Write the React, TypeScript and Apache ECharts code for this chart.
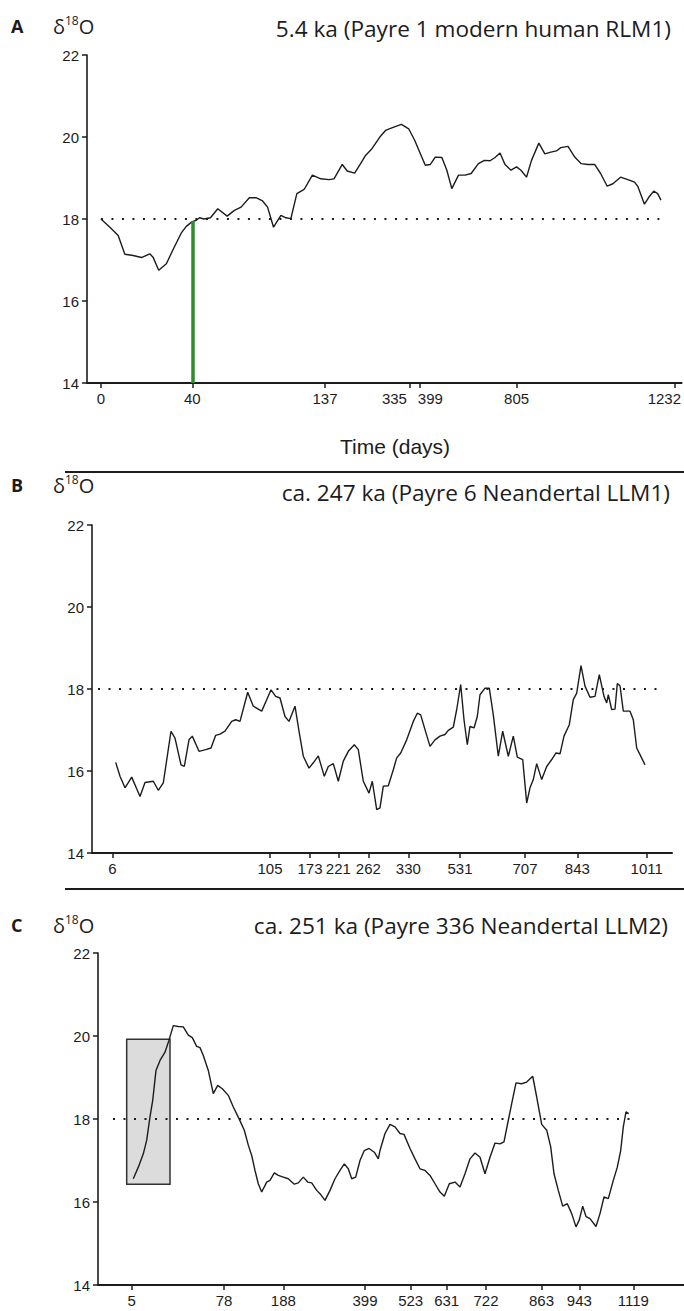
import React, { useEffect, useRef } from "react";
import * as echarts from "echarts";

// ---------- Panel A : 5.4 ka (Payre 1 modern human RLM1) ----------
const aTickPos = [14, 105.7, 239, 323.7, 333.7, 431.3, 589.7];
const aTickLabels = ["0", "40", "137", "335", "399", "805", "1232"];
const aPos = [14, 23, 31.3, 38, 46.3, 54.7, 63, 66.3, 72, 79.7, 87.3, 94.7, 99.7, 105.3, 109.7, 113, 117.3, 124, 131.3, 140.7, 148, 154.7, 163, 169.7, 176.3, 181.3, 187.3, 194.7, 199.7, 204.7, 210.7, 218, 226.3, 234.7, 243, 248, 256.3, 261.3, 268.7, 274.7, 279.7, 286.3, 294.7, 299.7, 308, 315.7, 323, 329, 334.7, 339.7, 344.7, 349.7, 356.3, 361.3, 366.3, 373, 379.7, 385.7, 393, 399, 404.7, 409.7, 414.7, 419.7, 425.7, 431.3, 435.7, 441.3, 446.3, 453.7, 459.7, 465.7, 471.3, 475.7, 483, 489.7, 496.3, 503, 509.7, 515.7, 522.3, 528, 535.7, 543, 549.7, 553, 559.7, 564.7, 569, 573, 576.3];
const aVal = [18.0, 17.8, 17.6, 17.14, 17.11, 17.06, 17.15, 17.07, 16.75, 16.91, 17.3, 17.66, 17.82, 17.93, 17.97, 18.03, 18.0, 18.03, 18.25, 18.07, 18.21, 18.29, 18.52, 18.52, 18.44, 18.29, 17.8, 18.09, 18.03, 18.01, 18.62, 18.72, 19.07, 18.98, 18.96, 18.98, 19.33, 19.17, 19.12, 19.35, 19.55, 19.72, 20.02, 20.16, 20.24, 20.31, 20.2, 19.92, 19.59, 19.31, 19.33, 19.51, 19.5, 19.19, 18.74, 19.07, 19.07, 19.11, 19.35, 19.43, 19.42, 19.5, 19.61, 19.33, 19.19, 19.27, 19.19, 19.02, 19.43, 19.85, 19.59, 19.63, 19.66, 19.74, 19.77, 19.51, 19.35, 19.33, 19.33, 19.11, 18.8, 18.86, 19.02, 18.96, 18.9, 18.8, 18.36, 18.55, 18.68, 18.62, 18.46];
const aRefSpan = [14, 574.7];
const aGreenPos = 105.7;
const aGreenTop = 17.95;

// ---------- Panel B : ca. 247 ka (Payre 6 Neandertal LLM1) ----------
const bTickPos = [20.3, 178, 218, 246.3, 276.3, 316.3, 368, 433, 485.3, 554.7];
const bTickLabels = ["6", "105", "173", "221", "262", "330", "531", "707", "843", "1011"];
const bPos = [23.7, 28, 33, 39.7, 48, 53, 61.3, 66.3, 71.3, 79, 83, 89, 92.3, 97, 100.3, 107, 113.7, 119, 123.7, 128, 133, 139.7, 143.7, 148, 155.7, 161.3, 169.7, 174.7, 179, 183.7, 188, 193, 197, 203, 207, 211.3, 217, 221.3, 226.3, 232.3, 236.3, 241.3, 246.3, 251.3, 256.3, 262.3, 266.3, 271.3, 277, 280.3, 284.7, 288, 291.3, 296.3, 301.3, 304.7, 308.7, 314.7, 321.3, 325.3, 328.7, 333, 338, 343, 348, 353, 356.3, 361.3, 364.7, 368.7, 372, 375.3, 378, 382, 385.3, 388, 393, 397.3, 401.3, 406.3, 410.7, 416.3, 421.3, 425.3, 430.7, 434.7, 438, 441.3, 444.7, 449.7, 454.7, 459.7, 464, 468, 472, 477.3, 481.3, 484.7, 489, 493, 498, 503, 507.3, 512, 514.7, 516.3, 519.7, 523, 525.3, 528, 531.3, 538, 541.3, 544.7, 548, 553];
const bVal = [16.21, 15.87, 15.59, 15.85, 15.38, 15.72, 15.75, 15.53, 15.71, 16.97, 16.8, 16.15, 16.11, 16.76, 16.85, 16.48, 16.52, 16.56, 16.87, 16.9, 16.97, 17.21, 17.25, 17.21, 17.92, 17.58, 17.46, 17.74, 17.98, 17.82, 17.78, 17.33, 17.21, 17.58, 16.97, 16.36, 16.07, 16.2, 16.37, 15.87, 16.11, 16.18, 15.75, 16.24, 16.48, 16.64, 16.52, 15.75, 15.46, 15.75, 15.06, 15.1, 15.63, 15.64, 16.03, 16.32, 16.44, 16.76, 17.21, 17.41, 17.37, 17.01, 16.6, 16.76, 16.85, 16.89, 16.99, 17.07, 17.5, 18.11, 17.25, 16.64, 17.09, 17.05, 17.33, 17.86, 18.02, 18.02, 17.37, 16.36, 16.97, 16.36, 16.85, 16.34, 16.28, 15.22, 15.59, 15.79, 16.18, 15.79, 16.11, 16.28, 16.44, 16.42, 16.85, 17.13, 17.74, 17.9, 18.57, 18.07, 17.8, 17.82, 18.35, 17.82, 17.66, 17.86, 17.5, 17.51, 18.13, 18.08, 17.46, 17.46, 17.25, 16.56, 16.4, 16.15];
const bRefSpan = [6, 568];

// ---------- Panel C : ca. 251 ka (Payre 336 Neandertal LLM2) ----------
const cTickPos = [33.7, 126, 185.3, 267, 312.7, 348.7, 388, 443.5, 481.3, 535.3];
const cTickLabels = ["5", "78", "188", "399", "523", "631", "722", "863", "943", "1119"];
const cPos = [35.3, 40.3, 45.3, 48.7, 52, 54.7, 58, 62, 67, 71, 75.3, 80.3, 85.3, 90.3, 94.3, 98.7, 102, 105.3, 110.3, 115.3, 119.7, 124.3, 130.3, 135.3, 141, 146.3, 150.3, 153.7, 157, 160.3, 163.7, 168.7, 172, 176.3, 180.3, 185.3, 190.3, 196.3, 200.3, 205.3, 209.7, 213.7, 218.7, 222, 227, 232, 237, 242, 246.3, 250.3, 253.7, 257.7, 262, 266.3, 271, 276.3, 280.3, 282, 287, 292, 297, 302, 306, 312, 317, 322, 327, 332, 337, 342, 346.3, 351.3, 357, 362, 367, 372, 377, 382, 387, 392, 397, 402, 406, 410.3, 413.7, 418, 423.7, 428.7, 434.7, 438.7, 443.7, 448.7, 452.7, 456, 460.3, 464.7, 469.3, 473.7, 478, 481.3, 484.7, 488, 492, 498, 502, 506, 510.3, 515.3, 519.3, 522.7, 525.3, 528, 530.7];
const cVal = [16.56, 16.84, 17.16, 17.49, 18.05, 18.45, 19.17, 19.41, 19.61, 19.9, 20.25, 20.23, 20.22, 20.02, 19.96, 19.75, 19.72, 19.53, 19.17, 18.61, 18.81, 18.73, 18.57, 18.29, 18.01, 17.73, 17.37, 17.12, 16.76, 16.44, 16.24, 16.48, 16.52, 16.7, 16.64, 16.6, 16.56, 16.43, 16.46, 16.6, 16.48, 16.46, 16.28, 16.2, 16.04, 16.28, 16.56, 16.76, 16.92, 16.8, 16.56, 16.6, 17.0, 17.24, 17.29, 17.2, 17.04, 17.24, 17.65, 17.87, 17.81, 17.65, 17.63, 17.29, 17.04, 16.8, 16.76, 16.64, 16.44, 16.24, 16.14, 16.44, 16.48, 16.36, 16.68, 17.04, 17.18, 17.08, 16.68, 17.08, 17.42, 17.4, 17.45, 17.97, 18.37, 18.87, 18.85, 18.89, 19.03, 18.53, 17.87, 17.73, 17.33, 16.68, 16.28, 15.9, 15.96, 15.72, 15.4, 15.57, 15.9, 15.65, 15.6, 15.41, 15.72, 16.12, 16.08, 16.52, 16.84, 17.24, 17.81, 18.17, 18.13];
const cRefSpan = [15, 532];
const cBoxX = [28.7, 72];
const cBoxY = [16.43, 19.92];

// ---------- shared ----------
const yTicks = { min: 14, max: 22, step: 2 };
const refLevel = 18;
const titles = [
  "5.4 ka (Payre 1 modern human RLM1)",
  "ca. 247 ka (Payre 6 Neandertal LLM1)",
  "ca. 251 ka (Payre 336 Neandertal LLM2)",
];
const panelLetters = ["A", "B", "C"];
const xAxisName = "Time (days)";

// ---------- styling / layout ----------
const INK = "#1c1c1c";
const AXIS_FONT = "'Liberation Sans', Arial, sans-serif";
const TITLE_FONT = "'Open Sans', 'Noto Sans', sans-serif";
const grids = [
  { left: 87, top: 55, width: 597, height: 328, xmax: 597 },
  { left: 92, top: 525, width: 580, height: 328, xmax: 580 },
  { left: 98, top: 953, width: 586, height: 332, xmax: 586 },
];
const labelShiftA: Record<string, number> = { "335": -15, "399": 11, "1232": -10 };

function zip(xs: number[], ys: number[]) {
  return xs.map((x, i) => [x, ys[i]]);
}

function makeXAxis(gi: number, ticks: number[], labels: string[], shift: Record<string, number>) {
  const rich: Record<string, any> = {};
  labels.forEach((lab, i) => {
    const s = shift[lab];
    if (s) {
      rich["s" + i] = {
        fontSize: 15,
        fontFamily: AXIS_FONT,
        color: INK,
        padding: s < 0 ? [0, -2 * s, 0, 0] : [0, 0, 0, 2 * s],
      };
    }
  });
  return {
    type: "value",
    gridIndex: gi,
    min: 0,
    max: grids[gi].xmax,
    splitLine: { show: false },
    axisLine: { show: true, onZero: false, lineStyle: { color: INK, width: 2 } },
    axisTick: { show: true, customValues: ticks, length: 5, lineStyle: { color: INK, width: 1.5 } },
    axisLabel: {
      show: true,
      customValues: ticks,
      fontSize: 15,
      fontFamily: AXIS_FONT,
      color: INK,
      margin: 8,
      rich,
      formatter: (v: number) => {
        const i = ticks.indexOf(v);
        if (i < 0) return "";
        const lab = labels[i];
        return shift[lab] ? `{s${i}|${lab}}` : lab;
      },
    },
  };
}

function makeYAxis(gi: number) {
  return {
    type: "value",
    gridIndex: gi,
    min: yTicks.min,
    max: yTicks.max,
    interval: yTicks.step,
    splitLine: { show: false },
    axisLine: { show: true, onZero: false, lineStyle: { color: INK, width: 1.6 } },
    axisTick: { show: true, length: 5, lineStyle: { color: INK, width: 1.5 } },
    axisLabel: { fontSize: 15, fontFamily: AXIS_FONT, color: INK, margin: 8 },
  };
}

const dotted = { color: INK, width: 2, type: [2, 8.5], cap: "butt" };

function refLine(span: number[]) {
  return [{ coord: [span[0], refLevel] }, { coord: [span[1], refLevel] }];
}

function lineSeries(gi: number, data: number[][], extra: any = {}) {
  return {
    type: "line",
    xAxisIndex: gi,
    yAxisIndex: gi,
    data,
    showSymbol: false,
    symbol: "none",
    lineStyle: { color: INK, width: 1.4 },
    z: 3,
    ...extra,
  };
}

function headerTexts(gi: number, y: number) {
  return [
    {
      type: "text",
      left: 11,
      top: y - 11,
      style: {
        text: panelLetters[gi],
        fill: INK,
        fontSize: 18,
        fontWeight: "bold",
        fontFamily: TITLE_FONT,
      },
    },
    {
      type: "text",
      left: 53,
      top: y - 14,
      style: {
        text: "{d|δ}{s|18}{o|O}",
        fill: INK,
        rich: {
          d: { fontSize: 20, fontFamily: TITLE_FONT, fill: INK, lineHeight: 25 },
          s: { fontSize: 12, fontFamily: TITLE_FONT, fill: INK, verticalAlign: "top", lineHeight: 25 },
          o: { fontSize: 20, fontFamily: TITLE_FONT, fill: INK, lineHeight: 25 },
        },
      },
    },
  ];
}

export default function App() {
  const ref = useRef<HTMLDivElement>(null);
  useEffect(() => {
    if (!ref.current) return;
    const chart = echarts.init(ref.current, null, { renderer: "svg" });
    const option: any = {
      animation: false,
      backgroundColor: "#ffffff",
      grid: grids.map((g) => ({ left: g.left, top: g.top, width: g.width, height: g.height, containLabel: false })),
      xAxis: [
        makeXAxis(0, aTickPos, aTickLabels, labelShiftA),
        makeXAxis(1, bTickPos, bTickLabels, {}),
        makeXAxis(2, cTickPos, cTickLabels, {}),
      ],
      yAxis: [makeYAxis(0), makeYAxis(1), makeYAxis(2)],
      series: [
        lineSeries(0, zip(aPos, aVal), {
          markLine: {
            silent: true,
            symbol: ["none", "none"],
            label: { show: false },
            lineStyle: dotted,
            data: [
              refLine(aRefSpan),
              [
                { coord: [aGreenPos, yTicks.min], lineStyle: { color: "#2e8b2e", width: 3.5, type: "solid" } },
                { coord: [aGreenPos, aGreenTop] },
              ],
            ],
          },
        }),
        lineSeries(1, zip(bPos, bVal), {
          markLine: {
            silent: true,
            symbol: ["none", "none"],
            label: { show: false },
            lineStyle: dotted,
            data: [refLine(bRefSpan)],
          },
        }),
        lineSeries(2, zip(cPos, cVal), {
          markLine: {
            silent: true,
            symbol: ["none", "none"],
            label: { show: false },
            lineStyle: dotted,
            data: [refLine(cRefSpan)],
          },
          markArea: {
            silent: true,
            itemStyle: { color: "#dcdcdc", borderColor: "#333", borderWidth: 1.5 },
            label: { show: false },
            data: [[{ coord: [cBoxX[0], cBoxY[1]] }, { coord: [cBoxX[1], cBoxY[0]] }]],
          },
        }),
      ],
      graphic: [
        ...headerTexts(0, 28),
        ...headerTexts(1, 487),
        ...headerTexts(2, 927),
        {
          type: "text",
          right: 13,
          top: 17,
          style: { text: titles[0], fill: INK, fontSize: 22.6, fontFamily: TITLE_FONT },
        },
        {
          type: "text",
          right: 14,
          top: 481,
          style: { text: titles[1], fill: INK, fontSize: 22.6, fontFamily: TITLE_FONT },
        },
        {
          type: "text",
          right: 16,
          top: 914,
          style: { text: titles[2], fill: INK, fontSize: 22.6, fontFamily: TITLE_FONT },
        },
        {
          type: "text",
          left: 340,
          top: 436,
          style: { text: xAxisName, fill: INK, fontSize: 21, fontFamily: AXIS_FONT },
        },
        {
          type: "line",
          shape: { x1: 65, y1: 472, x2: 684, y2: 472 },
          style: { stroke: INK, lineWidth: 2.2 },
        },
        {
          type: "line",
          shape: { x1: 65, y1: 889, x2: 684, y2: 889 },
          style: { stroke: INK, lineWidth: 2.2 },
        },
      ],
    };
    chart.setOption(option);
    return () => chart.dispose();
  }, []);
  return (
    <div
      ref={ref}
      style={{ position: "absolute", left: 0, top: 0, width: 684, height: 1311, background: "#fff" }}
    />
  );
}
